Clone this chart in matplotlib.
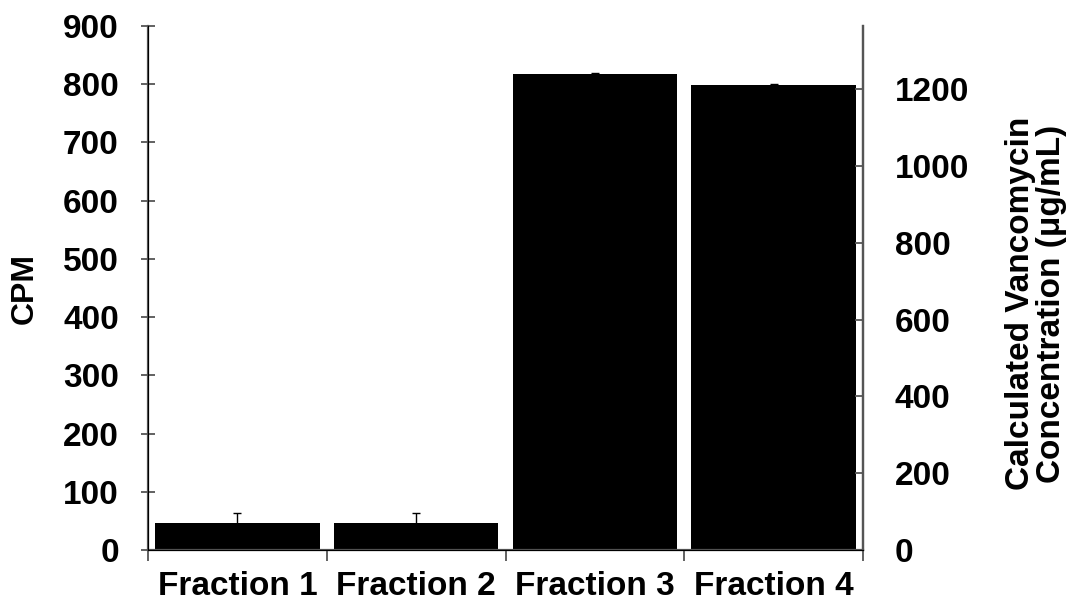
import matplotlib
matplotlib.use("Agg")
import matplotlib.pyplot as plt
import numpy as np

categories = ["Fraction 1", "Fraction 2", "Fraction 3", "Fraction 4"]
cpm = [46, 47, 817, 799]
cpm_err = [17, 16, 3, 2]
left_ticks = [0, 100, 200, 300, 400, 500, 600, 700, 800, 900]
right_ticks = [0, 200, 400, 600, 800, 1000, 1200]

plt.rcParams['font.family'] = ['Liberation Sans', 'DejaVu Sans']
plt.rcParams['font.weight'] = 'bold'

fig = plt.figure(figsize=(10.79, 6.06), dpi=100)
ax = fig.add_axes([148/1079, 1-550/606, (863-148)/1079, (550-26)/606])
x = np.arange(len(categories))
ax.bar(x, cpm, width=0.92, color='black', yerr=cpm_err,
       error_kw=dict(ecolor='black', elinewidth=1, capsize=3, capthick=1))
ax.set_xlim(-0.5, 3.5)
ax.set_ylim(0, 900)
ax.set_yticks(left_ticks)
ax.set_xticks(x)
ax.set_xticklabels(categories, fontsize=24, fontweight='bold')
ax.set_xticks([-0.5, 0.5, 1.5, 2.5, 3.5], minor=True)
ax.tick_params(axis='x', which='major', length=0, pad=15)
ax.tick_params(axis='x', which='minor', length=8, width=1.3, color='#555555', direction='out')
ax.tick_params(axis='y', labelsize=24, length=10, width=1.3, color='#555555', direction='inout', pad=16)
for lab in ax.get_yticklabels():
    lab.set_fontweight('bold')
ax.set_ylabel("CPM", fontsize=23, fontweight='bold')
ax.yaxis.set_label_coords(-0.151, 0.5)
for s in ['left', 'bottom', 'right']:
    ax.spines[s].set_color('#555555')
    ax.spines[s].set_linewidth(1.6)
ax.spines['top'].set_visible(False)

ax2 = ax.twinx()
ax2.set_ylim(0, 900 * 1.516)
ax2.set_yticks(right_ticks)
ax2.tick_params(axis='y', labelsize=24, length=6, width=1.3, color='#555555', direction='in', pad=23)
for lab in ax2.get_yticklabels():
    lab.set_fontweight('bold')
ax2.spines['top'].set_visible(False)
ax2.spines['right'].set_color('#555555')
ax2.spines['right'].set_linewidth(1.6)
ax2.set_ylabel("Calculated Vancomycin\nConcentration (μg/mL)", fontsize=24,
               fontweight='bold', linespacing=1.0)
ax2.yaxis.set_label_coords(1.199, 0.47)

fig.savefig("out.png", dpi=100)
